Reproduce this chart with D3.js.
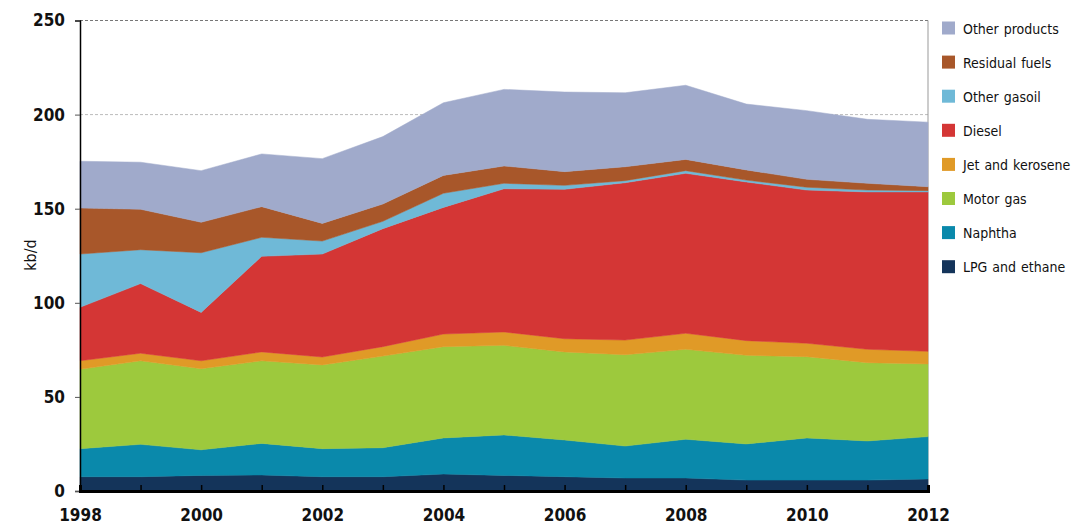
<!DOCTYPE html>
<html>
<head>
<meta charset="utf-8">
<script src="https://cdn.jsdelivr.net/npm/d3@7"></script>
<style>
  body { margin: 0; background: #fff; }
  text { font-family: "DejaVu Sans Condensed", "Liberation Sans Narrow", sans-serif; font-stretch: condensed; fill: #111; }
</style>
</head>
<body>
<svg id="chart"></svg>
<script>
var years = [1998, 1999, 2000, 2001, 2002, 2003, 2004, 2005, 2006, 2007, 2008, 2009, 2010, 2011, 2012];
var seriesNames = ["LPG and ethane", "Naphtha", "Motor gas", "Jet and kerosene", "Diesel", "Other gasoil", "Residual fuels", "Other products"];
var lpg       = [7.6, 7.6, 8.3, 8.5, 7.6, 7.6, 9.0, 8.3, 7.6, 6.9, 6.9, 5.8, 5.8, 5.8, 6.4];
var naphtha   = [14.9, 17.2, 13.6, 16.8, 14.9, 15.4, 19.2, 21.5, 19.5, 17.0, 20.6, 19.2, 22.4, 20.8, 22.5];
var motorGas  = [42.2, 44.4, 43.1, 43.9, 44.5, 48.7, 48.5, 47.6, 46.8, 48.5, 47.8, 47.1, 43.2, 41.6, 38.6];
var jet       = [4.5, 4.0, 4.2, 4.7, 4.2, 5.0, 6.7, 7.1, 7.0, 7.8, 8.5, 7.8, 7.1, 7.1, 6.7];
var diesel    = [28.4, 37.0, 25.7, 50.8, 54.7, 62.7, 67.3, 76.1, 79.4, 83.6, 85.0, 84.3, 81.4, 83.6, 84.7];
var gasoil    = [28.3, 18.0, 31.7, 10.1, 6.9, 3.9, 7.5, 2.9, 2.1, 1.1, 1.4, 1.0, 1.5, 1.0, 0.7];
var residual  = [24.5, 21.5, 16.2, 16.3, 9.4, 9.2, 9.5, 9.2, 7.3, 7.4, 6.0, 5.4, 4.2, 3.6, 2.1];
var other     = [24.8, 25.0, 27.4, 28.0, 34.4, 35.8, 38.6, 40.7, 42.3, 39.3, 39.4, 35.0, 36.5, 34.0, 34.3];
var colors = ["#14345a", "#0a89ab", "#9dc93d", "#e09a27", "#d43635", "#6fb9d7", "#a8572a", "#a0aacb"];
var yTicks = [0, 50, 100, 150, 200, 250];
var xTicks = [1998, 2000, 2002, 2004, 2006, 2008, 2010, 2012];

var w = 1072, h = 526;
var mLeft = 80, mRight = 928, mTop = 20.5, mBottom = 491;

var svg = d3.select("#chart").attr("width", w).attr("height", h);

// rows for the stack
var allSeries = [lpg, naphtha, motorGas, jet, diesel, gasoil, residual, other];
var rows = years.map(function(yr, i) {
  var r = { year: yr };
  seriesNames.forEach(function(n, k) { r[n] = allSeries[k][i]; });
  return r;
});

var x = d3.scaleLinear().domain([1998, 2012]).range([mLeft, mRight]);
var y = d3.scaleLinear().domain([0, 250]).range([mBottom, mTop]);

// grid lines (behind areas)
svg.append("g").selectAll("line")
  .data(yTicks.filter(function(d) { return d > 0; }))
  .enter().append("line")
    .attr("x1", mLeft).attr("x2", mRight)
    .attr("y1", function(d) { return y(d); })
    .attr("y2", function(d) { return y(d); })
    .attr("stroke", function(d) { return d === 250 ? "#777" : "#bbb"; })
    .attr("stroke-width", 1)
    .attr("stroke-dasharray", "3,2");

// right border
svg.append("line")
  .attr("x1", mRight).attr("x2", mRight).attr("y1", mTop).attr("y2", mBottom)
  .attr("stroke", "#999").attr("stroke-width", 1);

var stack = d3.stack().keys(seriesNames);
var layers = stack(rows);

var area = d3.area()
  .x(function(d) { return x(d.data.year); })
  .y0(function(d) { return y(d[0]); })
  .y1(function(d) { return y(d[1]); });

svg.append("g").selectAll("path")
  .data(layers)
  .enter().append("path")
    .attr("d", area)
    .attr("fill", function(d, i) { return colors[i]; })
    .attr("stroke", function(d, i) { return colors[i]; })
    .attr("stroke-width", 0.5);

// y axis
var yAxis = svg.append("g")
  .attr("transform", "translate(" + mLeft + ",0)")
  .call(d3.axisLeft(y).tickValues(yTicks).tickSize(5).tickPadding(10));
yAxis.select(".domain").attr("stroke", "#000").attr("stroke-width", 1.5);
yAxis.selectAll(".tick line").attr("stroke", "#555");
yAxis.selectAll("text").style("font-size", "17px").style("font-weight", "bold").attr("fill", "#111");

// x axis with inward ticks every year
var xAxis = svg.append("g")
  .attr("transform", "translate(0," + mBottom + ")")
  .call(d3.axisBottom(x).tickValues(years).tickSize(-6).tickPadding(18)
    .tickFormat(function(d) { return xTicks.indexOf(d) >= 0 ? d : ""; }));
xAxis.select(".domain").attr("stroke", "#000").attr("stroke-width", 3);
xAxis.selectAll(".tick line").attr("stroke", "#000").attr("stroke-width", 1.5);
xAxis.selectAll("text").style("font-size", "17px").style("font-weight", "bold").attr("fill", "#111");

// y title
svg.append("text")
  .attr("transform", "translate(36," + 255 + ") rotate(-90)")
  .attr("text-anchor", "middle")
  .style("font-size", "16px")
  .text("kb/d");

// legend (top item is the top layer)
var legendItems = seriesNames.map(function(n, i) { return { name: n, color: colors[i] }; }).reverse();
var legend = svg.append("g").selectAll("g")
  .data(legendItems)
  .enter().append("g")
    .attr("transform", function(d, i) { return "translate(942," + (28 + i * 34.1) + ")"; });
legend.append("rect")
  .attr("x", 0).attr("y", -6.5).attr("width", 13).attr("height", 13)
  .attr("fill", function(d) { return d.color; });
legend.append("text")
  .attr("x", 21).attr("y", 5.5)
  .style("font-size", "14px")
  .style("word-spacing", "1px")
  .text(function(d) { return d.name; });
</script>
</body>
</html>
